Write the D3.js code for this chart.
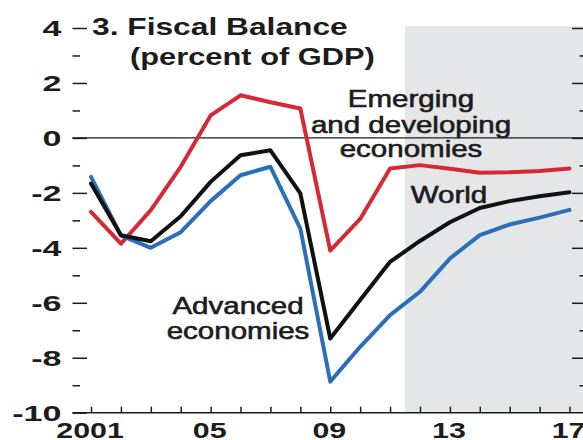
<!DOCTYPE html>
<html>
<head>
<meta charset="utf-8">
<script src="https://d3js.org/d3.v7.min.js"></script>
<style>
    body { margin: 0; background: #fff; }
    svg { display: block; font-family: "Liberation Sans", Arial, sans-serif; }
    .tick-label { font-size: 22px; font-weight: bold; fill: #1c1c1c; }
    .title { font-size: 23px; font-weight: bold; fill: #1c1c1c; }
    .series-label { font-size: 24px; fill: #1c1c1c; stroke: #1c1c1c; stroke-width: 0.6px; }
    .line { fill: none; stroke-width: 4px; stroke-linejoin: round; stroke-linecap: round; }
    .axis line { stroke: #1c1c1c; stroke-width: 1.5px; }
    .axis path { display: none; }
</style>
</head>
<body>
<div id="chart"></div>
<script>
    // Fiscal balance, percent of GDP
    var years = [2001, 2002, 2003, 2004, 2005, 2006, 2007, 2008, 2009,
                 2010, 2011, 2012, 2013, 2014, 2015, 2016, 2017];
    var world = [-1.66, -3.54, -3.76, -2.85, -1.6, -0.63, -0.45, -2.02, -7.3,
                 -5.9, -4.51, -3.75, -3.07, -2.55, -2.3, -2.12, -1.98];
    var advanced = [-1.42, -3.55, -4.0, -3.43, -2.3, -1.36, -1.05, -3.3, -8.87,
                    -7.6, -6.45, -5.6, -4.39, -3.54, -3.15, -2.9, -2.62];
    var emerging = [-2.69, -3.85, -2.63, -1.05, 0.82, 1.55, 1.3, 1.07, -4.1,
                    -2.95, -1.11, -0.99, -1.12, -1.27, -1.25, -1.2, -1.11];

    var yMajor = [-10, -8, -6, -4, -2, 0, 2, 4];
    var yMinor = [-9, -7, -5, -3, -1, 1, 3];
    var xTickYears = [2001, 2005, 2009, 2013, 2017];
    var xTickText = ["2001", "05", "09", "13", "17"];
    var projectionStart = 2011.5;

    var width = 583, height = 440;
    var left = 72.5, right = 587;

    var x = d3.scaleLinear().domain([2001, 2017]).range([91, 569.5]);
    var y = d3.scaleLinear().domain([-10, 4]).range([412.7, 28]);

    var svg = d3.select("#chart").append("svg")
        .attr("width", width)
        .attr("height", height);

    // projection shading
    svg.append("rect")
        .attr("x", x(projectionStart))
        .attr("y", y(4) - 2)
        .attr("width", right - x(projectionStart))
        .attr("height", y(-10) - y(4) + 2)
        .attr("fill", "#e5e6e8");

    // left / right ticks (no axis line)
    svg.append("g").attr("class", "axis")
        .attr("transform", "translate(" + left + ",0)")
        .call(d3.axisRight(y).tickValues(yMajor).tickSize(14.5).tickFormat(""));
    svg.append("g").attr("class", "axis")
        .attr("transform", "translate(" + left + ",0)")
        .call(d3.axisRight(y).tickValues(yMinor).tickSize(7.5).tickFormat(""));
    svg.append("g").attr("class", "axis")
        .attr("transform", "translate(" + right + ",0)")
        .call(d3.axisLeft(y).tickValues(yMajor.slice(1)).tickSize(15).tickFormat(""));
    svg.append("g").attr("class", "axis")
        .attr("transform", "translate(" + right + ",0)")
        .call(d3.axisLeft(y).tickValues(yMinor).tickSize(7.5).tickFormat(""));

    // bottom axis
    svg.append("g").attr("class", "axis")
        .attr("transform", "translate(0," + y(-10) + ")")
        .call(d3.axisTop(x).tickValues(years).tickSize(6).tickFormat(""));
    svg.append("line")
        .attr("x1", left).attr("x2", right)
        .attr("y1", y(-10)).attr("y2", y(-10))
        .attr("stroke", "#1c1c1c").attr("stroke-width", 1.6);

    // zero line
    svg.append("line")
        .attr("x1", left).attr("x2", right)
        .attr("y1", y(0)).attr("y2", y(0))
        .attr("stroke", "#1c1c1c").attr("stroke-width", 1.3);

    // tick labels (the original type is stretched wide)
    svg.selectAll(".ylab")
        .data(yMajor)
        .enter().append("text")
        .attr("class", "tick-label")
        .attr("text-anchor", "end")
        .attr("transform", function (d) { return "translate(61.5," + (y(d) + 7.8) + ") scale(1.55,1)"; })
        .text(function (d) { return d; });

    svg.selectAll(".xlab")
        .data(xTickYears)
        .enter().append("text")
        .attr("class", "tick-label")
        .attr("text-anchor", "middle")
        .attr("transform", function (d) { return "translate(" + (x(d) - 1) + ",438) scale(1.38,1)"; })
        .text(function (d, i) { return xTickText[i]; });

    // lines
    var line = d3.line()
        .x(function (d, i) { return x(years[i]); })
        .y(function (d) { return y(d); });

    svg.append("path").datum(emerging).attr("class", "line")
        .attr("stroke", "#d42a35").attr("d", line);
    svg.append("path").datum(advanced).attr("class", "line")
        .attr("stroke", "#2b6fba").attr("d", line);
    svg.append("path").datum(world).attr("class", "line")
        .attr("stroke", "#111111").attr("d", line);

    // title
    svg.append("text").attr("class", "title")
        .attr("transform", "translate(92,35) scale(1.38,1)")
        .text("3. Fiscal Balance");
    svg.append("text").attr("class", "title")
        .attr("transform", "translate(130,65) scale(1.34,1)")
        .text("(percent of GDP)");

    // series labels
    function label(lines, cx, baselines) {
        lines.forEach(function (t, i) {
            svg.append("text").attr("class", "series-label")
                .attr("text-anchor", "middle")
                .attr("transform", "translate(" + cx + "," + baselines[i] + ") scale(1.23,1)")
                .text(t);
        });
    }
    label(["Emerging", "and developing", "economies"], 411, [107, 133, 157]);
    label(["World"], 449, [203]);
    label(["Advanced", "economies"], 238, [314, 339]);
</script>
</body>
</html>
